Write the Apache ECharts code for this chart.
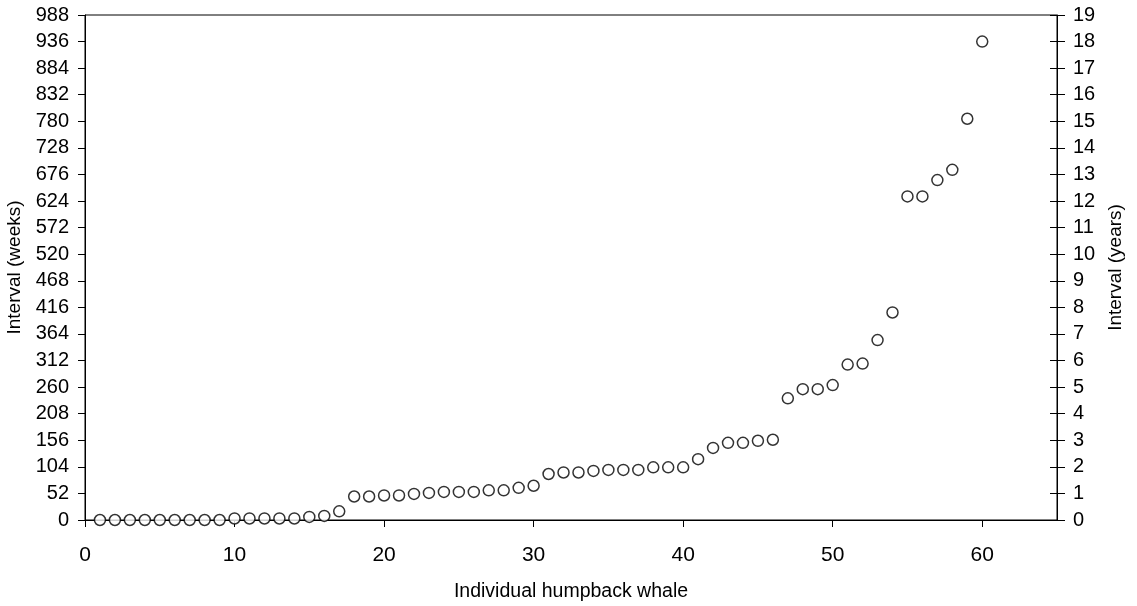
<!DOCTYPE html>
<html>
<head>
<meta charset="utf-8">
<script src="https://cdn.jsdelivr.net/npm/echarts@6/dist/echarts.min.js"></script>
<style>
html,body{margin:0;padding:0;background:#fff;}
#c{width:1137px;height:606px;}
</style>
</head>
<body>
<div id="c"></div>
<script>
const whales = [];
for (let i = 1; i <= 60; i++) whales.push(i);
const intervalWeeks = [0,0,0,0,0,0,0,0,0,3,3,3,3,3,6,8,17,46,46,48,48,51,53,55,55,55,58,58,63,67,
  90,93,93,96,98,98,98,103,103,103,119,141,151,151,155,157,238,256,256,264,304,306,352,406,633,633,665,685,785,936];
const xTitle = 'Individual humpback whale';
const yLeftTitle = 'Interval (weeks)';
const yRightTitle = 'Interval (years)';

const font = 'Liberation Sans, Arial, sans-serif';
const chart = echarts.init(document.getElementById('c'), null, {renderer:'canvas'});
const points = whales.map((w, i) => [w, intervalWeeks[i]]);
const txt = {color:'#000', fontFamily:font, fontSize:19};
chart.setOption({
  animation:false,
  backgroundColor:'#fff',
  grid:{left:85, right:80, top:15, bottom:86, containLabel:false, outerBoundsMode:'none',
        show:true, borderColor:'#000', borderWidth:1, backgroundColor:'transparent'},
  xAxis:{
    type:'value', min:0, max:65, interval:10,
    name:xTitle, nameLocation:'middle', nameGap:62,
    nameTextStyle:Object.assign({}, txt, {fontSize:19.5}),
    axisLine:{show:true, lineStyle:{color:'#000', width:1}},
    axisTick:{show:true, inside:false, length:7, lineStyle:{color:'#000'}},
    axisLabel:Object.assign({margin:25, showMaxLabel:false, formatter:v => v > 60 ? '' : String(v)}, txt, {fontSize:21}),
    splitLine:{show:false}
  },
  yAxis:[{
    type:'value', min:0, max:988, interval:52, position:'left',
    name:yLeftTitle, nameLocation:'middle', nameGap:60, nameRotate:90,
    nameTextStyle:Object.assign({}, txt),
    axisLine:{show:true, lineStyle:{color:'#000', width:1}},
    axisTick:{show:true, inside:false, length:7, lineStyle:{color:'#000'}},
    axisLabel:Object.assign({margin:16}, txt, {fontSize:20}),
    splitLine:{show:false}
  },{
    type:'value', min:0, max:19, interval:1, position:'right',
    name:yRightTitle, nameLocation:'middle', nameGap:46, nameRotate:90,
    nameTextStyle:Object.assign({}, txt),
    axisLine:{show:true, onZero:false, lineStyle:{color:'#000', width:1}},
    axisTick:{show:true, inside:false, length:8, lineStyle:{color:'#000'}},
    axisLabel:Object.assign({margin:16}, txt, {fontSize:20}),
    splitLine:{show:false}
  },{
    type:'value', min:0, max:19, interval:1, position:'right',
    axisLine:{show:false},
    axisTick:{show:true, inside:true, length:7, lineStyle:{color:'#000'}},
    axisLabel:{show:false},
    splitLine:{show:false}
  }],
  series:[{
    type:'scatter', yAxisIndex:0, clip:false,
    symbol:'circle', symbolSize:11,
    itemStyle:{color:'#fff', borderColor:'#000', borderWidth:1.5},
    data:points, z:5
  }]
});
</script>
</body>
</html>
